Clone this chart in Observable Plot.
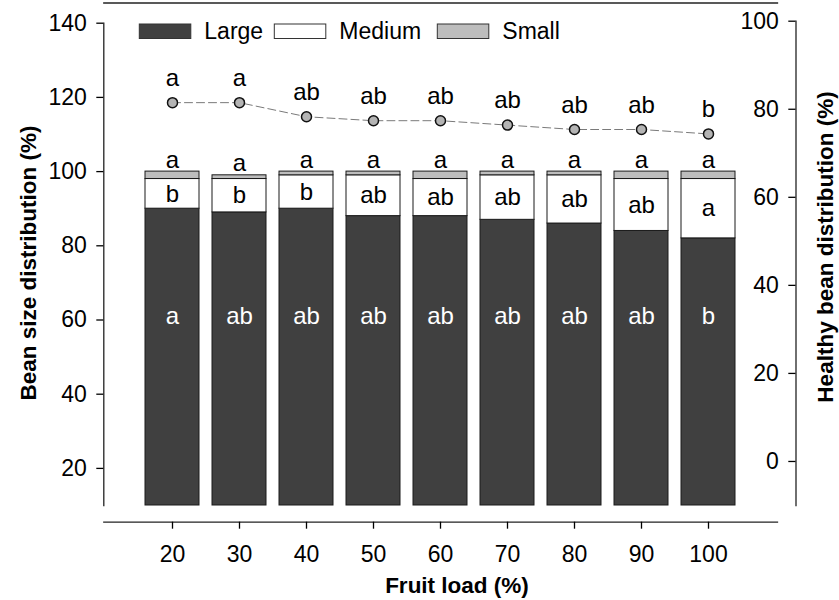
<!DOCTYPE html>
<html><head><meta charset="utf-8">
<script src="https://cdn.jsdelivr.net/npm/d3@7"></script>
<script src="https://cdn.jsdelivr.net/npm/@observablehq/plot@0.6"></script>
<style>
body{margin:0;background:#fff;}
#chart{position:relative;width:839px;height:600px;}
#chart svg{position:absolute;left:0;top:0;}
</style></head><body><div id="chart"></div>
<script>
// ---- data ----
const fruitLoad = ["20","30","40","50","60","70","80","90","100"];
const large  = [90,89,90,88,88,87,86,84,82];
const medium = [8,9,9,11,10,12,13,14,16];
const small  = [2,1,1,1,2,1,1,2,2];
const healthy = [81.5,81.5,78.3,77.4,77.4,76.4,75.4,75.4,74.4];
const largeLetters   = ["a","ab","ab","ab","ab","ab","ab","ab","b"];
const mediumLetters  = ["b","b","b","ab","ab","ab","ab","ab","a"];
const smallLetters   = ["a","a","a","a","a","a","a","a","a"];
const healthyLetters = ["a","a","ab","ab","ab","ab","ab","ab","b"];
const sizeClasses = ["Large","Medium","Small"];
const sizeColors  = ["#404040","#ffffff","#bdbdbd"];
const leftTicks  = [20,40,60,80,100,120,140];
const rightTicks = [0,20,40,60,80,100];
const leftDomain  = [10,140];
const rightDomain = [-10,100];
const xTitle = "Fruit load (%)";
const yTitle = "Bean size distribution (%)";
const y2Title = "Healthy bean distribution (%)";

// ---- tables ----
const segments = fruitLoad.flatMap((f,i) => [
  {load:f, size:"Large",  y1:leftDomain[0], y2:large[i]},
  {load:f, size:"Medium", y1:large[i], y2:large[i]+medium[i]},
  {load:f, size:"Small",  y1:large[i]+medium[i], y2:large[i]+medium[i]+small[i]}
]);
const rows = fruitLoad.map((f,i) => ({
  load:f, large:large[i], medMid: large[i]+medium[i]/2,
  total: large[i]+medium[i]+small[i], healthy: healthy[i],
  lL: largeLetters[i], mL: mediumLetters[i], sL: smallLetters[i], hL: healthyLetters[i]
}));

const font = "'Liberation Sans', Arial, Helvetica, sans-serif";
const W = 839, H = 600;
const xOpts = {type:"band", domain: fruitLoad, paddingInner:0.2, paddingOuter:0.6};
const baseStyle = {fontFamily:font, fontSize:"23px", color:"#000", background:"transparent", overflow:"visible"};

const main = Plot.plot({
  width:W, height:H, marginLeft:103.3, marginRight:62, marginTop:2.5, marginBottom:78.3,
  style: baseStyle,
  x: {...xOpts},
  y: {domain:leftDomain, range:[505,22.7]},
  color: {domain:sizeClasses, range:sizeColors},
  marks: [
    Plot.barY(segments, {x:"load", y1:"y1", y2:"y2", fill:"size", stroke:"#1a1a1a", strokeWidth:1}),
    Plot.frame({anchor:"top", stroke:"#222", strokeWidth:1.3}),
    Plot.frame({anchor:"bottom", stroke:"#222", strokeWidth:1.3}),
    Plot.frame({anchor:"left", insetTop:20.2, insetBottom:16.7, stroke:"#222", strokeWidth:1.3}),
    Plot.axisY({ticks:leftTicks, tickSize:7, tickPadding:10, label:null, strokeWidth:1.3}),
    Plot.axisX({tickSize:7, tickPadding:16, label:null, strokeWidth:1.3}),
    Plot.text(rows, {x:"load", y:61, text:"lL", fill:"#fff", fontSize:24}),
    Plot.text(rows, {x:"load", y:"medMid", text:"mL", fill:"#000", fontSize:24}),
    Plot.text(rows, {x:"load", y:"total", text:"sL", fill:"#000", fontSize:24, lineAnchor:"bottom", dy:-4})
  ]
});

const over = Plot.plot({
  width:W, height:H, marginLeft:795.5, marginRight:0, marginTop:20.7, marginBottom:95,
  style: baseStyle,
  x: {...xOpts, range:[103.3,777], axis:null},
  y: {domain:rightDomain},
  marks: [
    Plot.frame({anchor:"left", stroke:"#222", strokeWidth:1.3}),
    Plot.axisY({ticks:rightTicks, anchor:"left", tickSize:7.2, tickPadding:10, label:null, strokeWidth:1.3}),
    Plot.lineY(rows, {x:"load", y:"healthy", stroke:"#7a7a7a", strokeWidth:1, strokeDasharray:"8,4"}),
    Plot.dot(rows, {x:"load", y:"healthy", r:5, fill:"#b4b4b4", stroke:"#111", strokeWidth:1.5}),
    Plot.text(rows, {x:"load", y:"healthy", text:"hL", fill:"#000", fontSize:24, lineAnchor:"bottom", dy:-17})
  ]
});

const chart = document.getElementById("chart");
chart.appendChild(main);
chart.appendChild(over);

// titles & legend
const svg = d3.select(main);
const g = svg.append("g").attr("font-family", font).attr("fill", "#000");
g.append("text").text(xTitle).attr("x", 457).attr("y", 592.7)
  .attr("text-anchor","middle").attr("font-weight","bold").attr("font-size", 22.5);
g.append("text").text(yTitle).attr("transform","translate(28,263) rotate(-90)")
  .attr("dy","0.36em").attr("text-anchor","middle").attr("font-weight","bold").attr("font-size", 22.5);
g.append("text").text(y2Title).attr("transform","translate(825,247) rotate(-90)")
  .attr("dy","0.36em").attr("text-anchor","middle").attr("font-weight","bold").attr("font-size", 22.5);

const legendX = [139.3, 274.3, 437.3];
const leg = g.append("g");
sizeClasses.forEach((s,i) => {
  leg.append("rect").attr("x", legendX[i]).attr("y", 24).attr("width", 51.5).attr("height", 14.5)
    .attr("fill", sizeColors[i]).attr("stroke", "#333").attr("stroke-width", 1);
  leg.append("text").text(s).attr("x", legendX[i] + 65).attr("y", 39.3)
    .attr("text-anchor", "start").attr("font-size", 23);
});
</script></body></html>
